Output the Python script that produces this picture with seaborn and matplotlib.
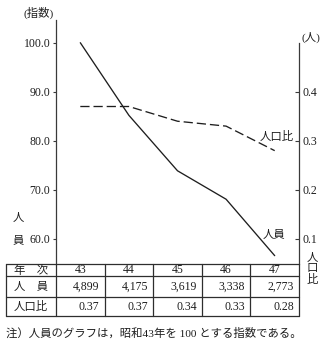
import matplotlib
matplotlib.use("Agg")
import matplotlib.pyplot as plt
import pandas as pd
import seaborn as sns

# ---- data ----
years = [43, 44, 45, 46, 47]
staff = [4899, 4175, 3619, 3338, 2773]            # 人員
staff_index = [100.0, 85.2, 73.9, 68.1, 56.6]     # 指数 (昭和43年=100)
ratio = [0.37, 0.37, 0.34, 0.33, 0.28]            # 人口比
left_ticks = [60.0, 70.0, 80.0, 90.0, 100.0]
right_ticks = [0.1, 0.2, 0.3, 0.4]
row_labels = ["年　次", "人　員", "人口比"]

df = pd.DataFrame({"year": years, "index": staff_index, "ratio": ratio})

sns.set_theme(style="white")
plt.rcParams["font.family"] = ["Liberation Serif", "Noto Sans CJK JP", "DejaVu Sans"]
INK = "#1e1e1e"
plt.rcParams["text.color"] = INK

W, H = 324, 345
fig = plt.figure(figsize=(W / 100, H / 100), dpi=100)
fig.patch.set_facecolor("white")

# layout in pixels
ax_left, ax_right, ax_top, ax_bottom = 56, 299, 20, 264.3
ax = fig.add_axes([ax_left / W, 1 - ax_bottom / H,
                   (ax_right - ax_left) / W, (ax_bottom - ax_top) / H])
ax.set_facecolor("none")
ylim_left = (54.84, 104.63)
ax.set_xlim(42.5, 47.5)
ax.set_ylim(*ylim_left)

sns.lineplot(data=df, x="year", y="index", ax=ax, color=INK, lw=0.95)

ax2 = ax.twinx()
ax2.set_ylim(ylim_left[0] / 100 - 0.5, ylim_left[1] / 100 - 0.5)
sns.lineplot(data=df, x="year", y="ratio", ax=ax2, color=INK, lw=0.95,
             dashes=False)
for ln in ax2.get_lines():
    ln.set_dashes((7, 3))

for a in (ax, ax2):
    a.set_xlabel("")
    a.set_ylabel("")
    a.set_xticks([])
    a.grid(False)
    for s in a.spines.values():
        s.set_visible(False)

ax.spines["left"].set_visible(True)
ax.spines["left"].set_color("#3a3a3a")
ax.spines["left"].set_linewidth(0.9)
ax.set_yticks(left_ticks)
ax.set_yticklabels([f"{v:.1f}" for v in left_ticks], fontsize=8.5)
ax.tick_params(axis="y", direction="out", length=2.5, width=0.8,
               pad=1.5, color="#3a3a3a", left=True, labelcolor=INK)

ax2.spines["right"].set_visible(True)
ax2.spines["right"].set_color("#3a3a3a")
ax2.spines["right"].set_linewidth(0.9)
ax2.spines["right"].set_bounds(ax2.get_ylim()[0], 0.5)
ax2.set_yticks(right_ticks)
ax2.set_yticklabels([f"{v:.1f}" for v in right_ticks], fontsize=8.5)
ax2.tick_params(axis="y", direction="in", length=3, width=0.8,
                pad=2.5, color="#3a3a3a", right=True, labelcolor=INK)

# ---- overlay in pixel coordinates: labels, table, footnote ----
ov = fig.add_axes([0, 0, 1, 1])
ov.set_xlim(0, W)
ov.set_ylim(H, 0)
ov.axis("off")
ov.set_facecolor("none")

cjk = 8.2
ov.text(39, 12.5, "(指数)", fontsize=cjk, ha="center", va="center")
ov.text(311, 37, "(人)", fontsize=cjk, ha="center", va="center")
ov.text(18.5, 218, "人", fontsize=cjk, ha="center", va="center")
ov.text(18.5, 240, "員", fontsize=cjk, ha="center", va="center")
ov.text(294, 136, "人口比", fontsize=cjk, ha="right", va="center")
ov.text(274, 235, "人員", fontsize=cjk, ha="center", va="center")
ov.text(312, 269, "人\n口\n比", fontsize=cjk, ha="center", va="center",
        linespacing=1.12)

# table
tbl_left, tbl_right = 6, 299
row_edges = [264.3, 276, 296.5, 316]
col_w = (ax_right - ax_left) / len(years)
col_edges = [tbl_left, ax_left] + [ax_left + col_w * (i + 1) for i in range(len(years))]
lc = "#2e2e2e"
for y in row_edges:
    ov.plot([tbl_left, tbl_right], [y, y], color=lc, lw=0.9)
for x in col_edges:
    ov.plot([x, x], [row_edges[0], row_edges[-1]], color=lc, lw=0.9)

row_mid = [(row_edges[i] + row_edges[i + 1]) / 2 for i in range(3)]
for r, lab in enumerate(row_labels):
    ov.text((tbl_left + ax_left) / 2, row_mid[r] + 0.3, lab, fontsize=cjk,
            ha="center", va="center")
for i, yr in enumerate(years):
    cx = ax_left + col_w * (i + 0.5)
    rx = ax_left + col_w * (i + 1) - 5
    ov.text(cx, row_mid[0] + 0.3, f"{yr}", fontsize=8.5, ha="center", va="center")
    ov.text(rx, row_mid[1] + 0.3, f"{staff[i]:,}", fontsize=8.5, ha="right", va="center")
    ov.text(rx, row_mid[2] + 0.3, f"{ratio[i]:.2f}", fontsize=8.5, ha="right", va="center")

ov.text(6, 333, "注）人員のグラフは，昭和43年を 100 とする指数である。",
        fontsize=cjk, ha="left", va="center")

fig.savefig("out.png", dpi=100, facecolor="white")
